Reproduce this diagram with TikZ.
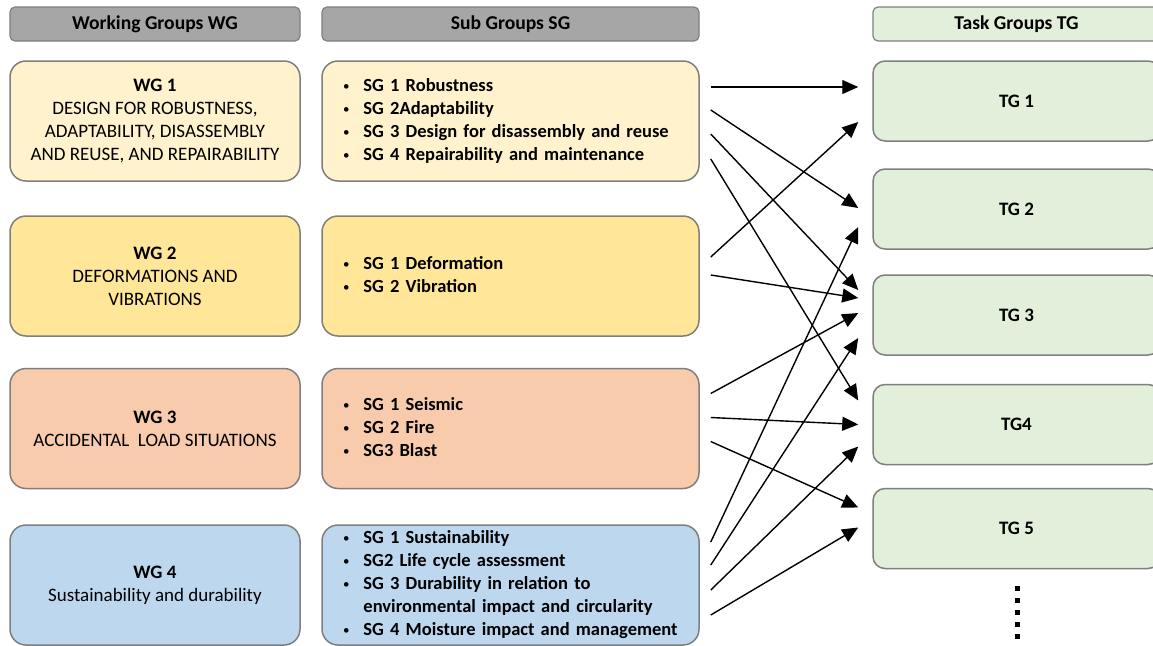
\documentclass[tikz,border=0pt]{standalone}
\usepackage{fontspec}
\setmainfont{Carlito}
\usetikzlibrary{arrows.meta,calc}

\definecolor{hdrgray}{HTML}{A6A6A6}
\definecolor{edgegray}{HTML}{7F7F7F}
\definecolor{wgyellow}{HTML}{FFF2CC}
\definecolor{wgamber}{HTML}{FFE699}
\definecolor{wgsalmon}{HTML}{F8CBAD}
\definecolor{wgblue}{HTML}{BDD7EE}
\definecolor{tggreen}{HTML}{E2EFDA}

\tikzset{
  hdr/.style={draw=edgegray, line width=1.2pt, rounded corners=5pt, minimum height=34pt, inner sep=0pt, font=\bfseries\fontsize{19.6}{22}\selectfont},
  wgbox/.style={draw=edgegray, line width=1.5pt, rounded corners=16pt, minimum width=290pt, minimum height=120pt, inner sep=0pt, align=center, font=\fontsize{19}{23}\selectfont},
  sgbox/.style={draw=edgegray, line width=1.5pt, rounded corners=16pt, minimum width=377pt, minimum height=120pt, text width=335pt, inner xsep=21pt, inner ysep=0pt, align=left, font=\bfseries\fontsize{18.5}{23}\selectfont},
  tgbox/.style={draw=edgegray, fill=tggreen, line width=1.5pt, rounded corners=12pt, minimum width=287pt, minimum height=80pt, font=\bfseries\fontsize{19}{23}\selectfont},
  arr/.style={-{Triangle[length=16pt,width=14pt]}, line width=1.4pt},
}
\newcommand{\sgdot}{\raisebox{1pt}{\mdseries\fontsize{13}{13}\selectfont\textbullet}}
\newcommand{\sglist}[1]{\begin{tabular}{@{}l@{\hspace{14pt}}l@{}}#1\end{tabular}}

\begin{document}
\begin{tikzpicture}[x=1pt, y=-1pt]
	  \useasboundingbox (0,0) rectangle (1153,645);
	  \clip (0,0) rectangle (1153,645);
	  \fill[white] (0,0) rectangle (1153,645);
	  % headers
	  \node[hdr, fill=hdrgray, minimum width=290pt] (wghead) at (155,24) {Working Groups WG};
	  \node[hdr, fill=hdrgray, minimum width=377pt] (sghead) at (510.5,24) {Sub Groups SG};
	  \node[hdr, fill=tggreen, minimum width=287pt] (tghead) at (1016.5,24) {Task Groups TG};
	  % working groups
	  \node[wgbox, fill=wgyellow] (wg1) at (155,121) {{\bfseries WG 1}\\DESIGN FOR ROBUSTNESS,\\ADAPTABILITY, DISASSEMBLY\\AND REUSE, AND REPAIRABILITY};
	  \node[wgbox, fill=wgamber] (wg2) at (155,276) {{\bfseries WG 2}\\DEFORMATIONS AND\\VIBRATIONS};
	  \node[wgbox, fill=wgsalmon] (wg3) at (155,428.5) {{\bfseries WG 3}\\ACCIDENTAL\ \ LOAD SITUATIONS};
	  \node[wgbox, fill=wgblue] (wg4) at (155,585) {{\bfseries WG 4}\\Sustainability and durability};
	  % sub groups
	  \node[sgbox, fill=wgyellow] (sg1) at (510.5,121) {\sglist{\sgdot & SG 1 Robustness\\ \sgdot & SG 2Adaptability\\ \sgdot & SG 3 Design for disassembly and reuse\\ \sgdot & SG 4 Repairability and maintenance}};
	  \node[sgbox, fill=wgamber] (sg2) at (510.5,276) {\sglist{\sgdot & SG 1 Deformation\\ \sgdot & SG 2 Vibration}};
	  \node[sgbox, fill=wgsalmon] (sg3) at (510.5,428.5) {\sglist{\sgdot & SG 1 Seismic\\ \sgdot & SG 2 Fire\\ \sgdot & SG3 Blast}};
	  \node[sgbox, fill=wgblue] (sg4) at (510.5,585) {\sglist{\sgdot & SG 1 Sustainability\\ \sgdot & SG2 Life cycle assessment\\ \sgdot & SG 3 Durability in relation to\\ & environmental impact and circularity\\ \sgdot & SG 4 Moisture impact and management}};
	  % task groups
	  \foreach \i/\y/\t in {1/101/TG 1, 2/209/TG 2, 3/315/TG 3, 4/424.5/TG4, 5/528.5/TG 5}
	    \node[tgbox] (tg\i) at (1016.5,\y) {\t};
	  \foreach \k in {0,...,4}
	    \fill (1014.5,585.5+12*\k) rectangle ++(5,5);
	  % links SG -> TG
	  \foreach \s/\a/\t/\b in {sg1/-34/tg1/-14, sg1/-11/tg2/-1, sg1/13/tg3/-25, sg1/38/tg4/-24,
	                           sg2/-19/tg1/21, sg2/-1/tg3/-17,
	                           sg3/-35/tg3/-2, sg3/-11/tg4/0, sg3/13/tg5/-21,
	                           sg4/-43/tg2/18, sg4/-20/tg3/23, sg4/5/tg4/22, sg4/30/tg5/-1}
	    \draw[arr] ($(\s.east)+(11,\a)$) -- ($(\t.west)+(-14,\b)$);
	\end{tikzpicture}
\end{document}
